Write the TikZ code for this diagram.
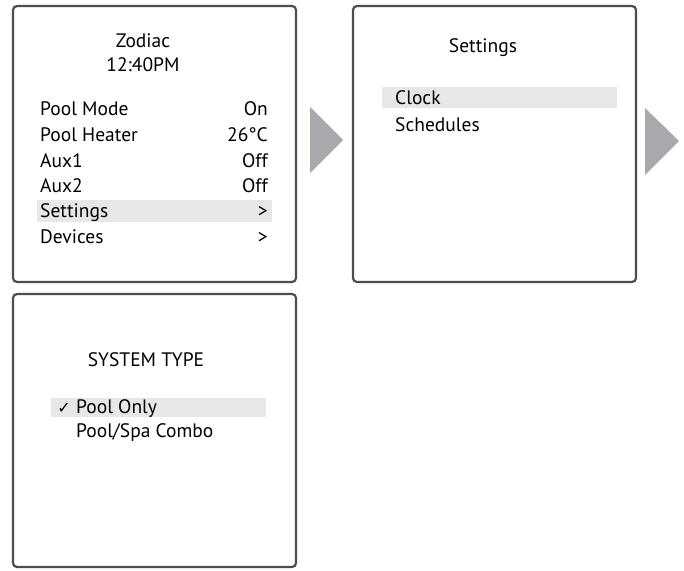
\documentclass[tikz,border=0pt]{standalone}
\usepackage{fontspec}
\setmainfont{PT Sans}
\newfontfamily\symfont{DejaVu Sans}
\definecolor{frame}{HTML}{4D4D4F}
\definecolor{hl}{HTML}{E6E7E8}
\definecolor{arr}{HTML}{A7A9AC}
\begin{document}
\begin{tikzpicture}[x=1pt,y=-1pt,
  screen/.style={draw=frame,line width=2.2pt,rounded corners=4pt},
  txt/.style={inner sep=0pt,font=\fontsize{19.5}{22}\selectfont},
  lt/.style={txt,anchor=base west},
  rt/.style={txt,anchor=base east},
  ct/.style={txt,anchor=base},
  bar/.style={fill=hl,draw=none},
  navarrow/.style={fill=arr,draw=none}]
\useasboundingbox (0,0) rectangle (684,570);
% screens
\draw[screen] (13,6) rectangle (296,282);
\draw[screen] (353,6) rectangle (636,282);
\draw[screen] (13,294) rectangle (296,567);
% highlight bars
\fill[bar] (37,200) rectangle (272,222);
\fill[bar] (382,87) rectangle (617,108);
\fill[bar] (51,398) rectangle (266,417);
% arrows
\fill[navarrow] (310,107) -- (343,140) -- (310,173) -- cycle;
\begin{scope}
\clip (640,0) rectangle (684,570);
\fill[navarrow] (645,108) -- (679,141) -- (645,175) -- cycle;
\end{scope}
% screen 1
\node[ct] (z1) at (143,47) {Zodiac};
\node[ct] (z2) at (143,71) {12:40PM};
\node[lt] (a1) at (40,115) {Pool Mode};
\node[rt] (b1) at (268,115) {On};
\node[lt] (a2) at (40,141) {Pool Heater};
\node[rt] (b2) at (268,141) {26°C};
\node[lt] (a3) at (40,167) {Aux1};
\node[rt] (b3) at (268,167) {Off};
\node[lt] (a4) at (40,192) {Aux2};
\node[rt] (b4) at (268,192) {Off};
\node[lt] (a5) at (40,217) {Settings};
\node[rt] (b5) at (268,217) {>};
\node[lt] (a6) at (40,243) {Devices};
\node[rt] (b6) at (268,243) {>};
% screen 2
\node[ct] (s1) at (483,52) {Settings};
\node[lt] (s2) at (395,104) {Clock};
\node[lt] (s3) at (395,131) {Schedules};
% screen 3
\node[ct] (t1) at (146,366) {SYSTEM TYPE};
\node[txt,anchor=base east] (ck) at (71,413) {\symfont\fontsize{16}{18}\selectfont ✓};
\node[lt] (t2) at (76,413) {Pool Only};
\node[lt] (t3) at (76,437) {Pool/Spa Combo};
\end{tikzpicture}
\end{document}
